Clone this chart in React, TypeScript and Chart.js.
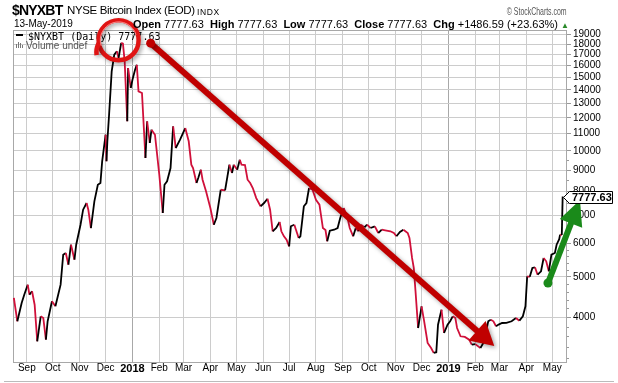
import React, { useEffect, useRef } from 'react';
import { Chart, registerables } from 'chart.js';

Chart.register(...registerables);

// ---- data ----
const DATES: string[] = [
  '2017-08-17','2017-08-21','2017-08-26','2017-08-29','2017-09-02','2017-09-04','2017-09-07','2017-09-10','2017-09-13','2017-09-17',
  '2017-09-20','2017-09-23','2017-09-25','2017-09-30','2017-10-04','2017-10-10','2017-10-13','2017-10-16','2017-10-19','2017-10-22',
  '2017-10-26','2017-10-28','2017-11-02','2017-11-05','2017-11-09','2017-11-11','2017-11-14','2017-11-18','2017-11-22','2017-11-25',
  '2017-11-27','2017-12-01','2017-12-02','2017-12-03','2017-12-05','2017-12-08','2017-12-11','2017-12-14','2017-12-16','2017-12-19',
  '2017-12-21','2017-12-23','2017-12-26','2017-12-27','2017-12-30','2018-01-01','2018-01-04','2018-01-06','2018-01-08','2018-01-12',
  '2018-01-16','2018-01-18','2018-01-21','2018-01-23','2018-01-27','2018-02-01','2018-02-05','2018-02-07','2018-02-10','2018-02-14',
  '2018-02-17','2018-02-20','2018-02-25','2018-03-03','2018-03-07','2018-03-10','2018-03-12','2018-03-16','2018-03-18','2018-03-21',
  '2018-03-23','2018-03-27','2018-04-01','2018-04-05','2018-04-08','2018-04-13','2018-04-18','2018-04-23','2018-04-26','2018-04-28',
  '2018-05-02','2018-05-05','2018-05-07','2018-05-11','2018-05-14','2018-05-17','2018-05-20','2018-05-24','2018-05-29','2018-06-02',
  '2018-06-06','2018-06-09','2018-06-12','2018-06-16','2018-06-20','2018-06-22','2018-06-25','2018-06-28','2018-07-01','2018-07-03',
  '2018-07-07','2018-07-12','2018-07-14','2018-07-18','2018-07-21','2018-07-24','2018-07-28','2018-08-01','2018-08-05','2018-08-09',
  '2018-08-12','2018-08-14','2018-08-17','2018-08-22','2018-08-26','2018-08-29','2018-09-02','2018-09-06','2018-09-09','2018-09-13',
  '2018-09-16','2018-09-19','2018-09-22','2018-09-26','2018-09-29','2018-10-03','2018-10-08','2018-10-12','2018-10-16','2018-10-20',
  '2018-10-26','2018-10-30','2018-11-02','2018-11-06','2018-11-10','2018-11-15','2018-11-17','2018-11-20','2018-11-22','2018-11-24',
  '2018-11-27','2018-12-01','2018-12-04','2018-12-08','2018-12-12','2018-12-15','2018-12-18','2018-12-20','2018-12-24','2018-12-27',
  '2018-12-31','2019-01-03','2019-01-06','2019-01-09','2019-01-11','2019-01-15','2019-01-20','2019-01-25','2019-01-28','2019-02-01',
  '2019-02-07','2019-02-11','2019-02-16','2019-02-19','2019-02-22','2019-02-25','2019-02-28','2019-03-04','2019-03-09','2019-03-15',
  '2019-03-20','2019-03-24','2019-03-28','2019-03-31','2019-04-02','2019-04-05','2019-04-08','2019-04-11','2019-04-14','2019-04-18',
  '2019-04-21','2019-04-24','2019-04-27','2019-04-30','2019-05-04','2019-05-06','2019-05-09','2019-05-10','2019-05-12','2019-05-13',
];

const CLOSES: number[] = [
  4449, 3913, 4328, 4530, 4787, 4530, 4616, 4287, 3505, 4022,
  3985, 3536, 3913, 4368, 4250, 4787, 5646, 5700, 5344, 5966,
  5493, 5966, 6660, 7234, 7505, 7234, 6540, 7576, 8301, 8378,
  9442, 10933, 9442, 10544, 12203, 15499, 16984, 17314, 16687, 18123,
  18050, 16380, 11768, 15784, 14139, 14800, 15637, 16075, 13883, 13753,
  9616, 11768, 10445, 11238, 10933, 8772, 7104, 8301, 8458, 9101,
  11449, 10159, 10636, 11342, 10544, 9268, 9101, 8378, 8614, 9017,
  8533, 8003, 7302, 6660, 6911, 8074, 8050, 9268, 8854, 9268,
  9017, 9526, 9268, 9250, 8533, 8378, 8152, 7713, 7371, 7505,
  7684, 7234, 6423, 6540, 6761, 6423, 6248, 6132, 5913, 6602,
  6660, 6190, 6248, 7371, 7505, 8152, 8074, 7642, 7436, 6540,
  6468, 6079, 6444, 6479, 6540, 6911, 7302, 6976, 6540, 6248,
  6540, 6423, 6660, 6566, 6660, 6540, 6602, 6363, 6479, 6455,
  6423, 6363, 6248, 6398, 6479, 6363, 6190, 5545, 5248, 4616,
  3771, 4250, 3913, 3472, 3378, 3287, 3300, 3840, 4171, 3669,
  3840, 3913, 4022, 3985, 3771, 3603, 3590, 3536, 3440, 3450,
  3378, 3491, 3913, 3947, 3913, 3807, 3843, 3876, 3880, 3913,
  3985, 3926, 4022, 4250, 5013, 5000, 5248, 5268, 5058, 5153,
  5545, 5445, 5153, 5646, 5700, 5966, 6150, 6304, 6291.04, 7777.63,
];

const MONTH_TICK_DATES: string[] = [
  '2017-09-01','2017-10-01','2017-11-01','2017-12-01','2018-01-01','2018-02-01','2018-03-01','2018-04-01','2018-05-01','2018-06-01',
  '2018-07-01','2018-08-01','2018-09-01','2018-10-01','2018-11-01','2018-12-01','2019-01-01','2019-02-01','2019-03-01','2019-04-01','2019-05-01',
];
const MONTH_TICK_LABELS: string[] = [
  'Sep','Oct','Nov','Dec','2018','Feb','Mar','Apr','May','Jun',
  'Jul','Aug','Sep','Oct','Nov','Dec','2019','Feb','Mar','Apr','May',
];
const PRICE_TICKS: number[] = [4000,5000,6000,7000,8000,9000,10000,11000,12000,13000,14000,15000,16000,17000,18000,19000];
const PRICE_MINOR_TICKS: number[] = [3200,3400,3600,3800,4200,4400,4600,4800,5200,5400,5600,5800,6500,7500,8500,9500];
const DATE_RANGE: string[] = ['2017-08-16', '2019-05-18'];
const PRICE_RANGE: number[] = [3127, 19460];

// annotations, anchored in data space
const CIRCLE_AT = { date: '2017-12-16', value: 18400 };
const DOWN_ARROW = { fromDate: '2018-01-22', fromValue: 18100, toDate: '2019-02-23', toValue: 3415 };
const UP_ARROW = { fromDate: '2019-04-26', fromValue: 4830, toDate: '2019-06-02', toValue: 7630 };

const RED = '#d0103a';
const BLACK = '#000000';
const GRID = '#cccccc';
const SANS = "'Liberation Sans', Arial, sans-serif";
const EPOCH = Date.UTC(2018, 0, 1);

function dayNum(s: string): number {
  const [y, m, d] = s.split('-').map(Number);
  return (Date.UTC(y, m - 1, d) - EPOCH) / 86400000;
}
const isYearLabel = (i: number) => /^\d{4}$/.test(MONTH_TICK_LABELS[i] || '');

function drawArrow(ctx: CanvasRenderingContext2D, x0: number, y0: number, x1: number, y1: number,
  color: string, shaft: number, headLen: number, headHalf: number, dotR: number, shadow: boolean) {
  const ang = Math.atan2(y1 - y0, x1 - x0);
  const c = Math.cos(ang), s = Math.sin(ang);
  const bx = x1 - headLen * c, by = y1 - headLen * s;
  ctx.save();
  if (shadow) {
    ctx.shadowColor = 'rgba(0,0,0,0.35)';
    ctx.shadowBlur = 4;
    ctx.shadowOffsetX = 2;
    ctx.shadowOffsetY = 2;
  }
  ctx.strokeStyle = color;
  ctx.fillStyle = color;
  ctx.lineWidth = shaft;
  ctx.lineCap = 'butt';
  ctx.beginPath();
  ctx.moveTo(x0, y0);
  ctx.lineTo(bx + c, by + s);
  ctx.stroke();
  ctx.beginPath();
  ctx.arc(x0, y0, dotR, 0, Math.PI * 2);
  ctx.fill();
  ctx.beginPath();
  ctx.moveTo(x1, y1);
  ctx.lineTo(bx - s * headHalf, by + c * headHalf);
  ctx.lineTo(bx + s * headHalf, by - c * headHalf);
  ctx.closePath();
  ctx.fill();
  ctx.restore();
}

const overlayPlugin = {
  id: 'overlay',
  beforeDatasetsDraw(chart: any) {
    const { ctx, chartArea: a } = chart;
    const ys = chart.scales.y;
    ctx.save();
    ctx.lineWidth = 1;
    // minor ticks on the price axis
    ctx.strokeStyle = '#999';
    PRICE_MINOR_TICKS.forEach((v) => {
      const y = Math.round(ys.getPixelForValue(v)) + 0.5;
      ctx.beginPath();
      ctx.moveTo(a.right, y);
      ctx.lineTo(a.right + 2, y);
      ctx.stroke();
    });
    ctx.strokeStyle = '#a8a8a8';
    ctx.strokeRect(a.left + 0.5, a.top + 0.5, a.right - a.left - 1, a.bottom - a.top);
    // bottom separator
    ctx.fillStyle = '#bbbbbb';
    ctx.fillRect(4, chart.height - 2, chart.width - 8, 1);
    ctx.restore();
  },
  afterDraw(chart: any) {
    const { ctx, chartArea: a } = chart;
    const xs = chart.scales.x, ys = chart.scales.y;
    const px = (d: string) => xs.getPixelForValue(dayNum(d));
    const py = (v: number) => ys.getPixelForValue(v);
    const last = CLOSES[CLOSES.length - 1];

    ctx.save();
    // in-chart legend
    ctx.fillStyle = '#000';
    ctx.fillRect(a.left + 3, a.top + 4, 7, 2);
    ctx.font = "10px 'DejaVu Sans Mono', monospace";
    ctx.textBaseline = 'alphabetic';
    ctx.textAlign = 'left';
    ctx.fillText(`$NYXBT (Daily) ${last.toFixed(2)}`, a.left + 15, a.top + 10);
    ctx.fillStyle = '#777';
    [4, 6, 5, 3].forEach((h, i) => ctx.fillRect(a.left + 3 + i * 2, a.top + 18 - h, 1, h));
    ctx.fillStyle = '#555';
    ctx.font = `10px ${SANS}`;
    ctx.fillText('Volume undef', a.left + 13, a.top + 18.5);

    // red circle
    const cx = px(CIRCLE_AT.date), cy = py(CIRCLE_AT.value);
    ctx.save();
    ctx.shadowColor = 'rgba(0,0,0,0.35)';
    ctx.shadowBlur = 4;
    ctx.shadowOffsetX = 2;
    ctx.shadowOffsetY = 2;
    ctx.strokeStyle = '#e01414';
    ctx.lineWidth = 4.5;
    ctx.beginPath();
    ctx.arc(cx, cy, 20, 0, Math.PI * 2);
    ctx.stroke();
    ctx.beginPath();
    ctx.moveTo(cx - 20, cy + 3);
    ctx.quadraticCurveTo(cx - 23, cy + 9, cx - 22, cy + 15);
    ctx.stroke();
    ctx.restore();
    ctx.strokeStyle = 'rgba(255,150,150,0.9)';
    ctx.lineWidth = 1;
    ctx.beginPath();
    ctx.arc(cx, cy, 18.3, Math.PI * 0.9, Math.PI * 1.9);
    ctx.stroke();

    // arrows
    drawArrow(ctx, px(DOWN_ARROW.fromDate), py(DOWN_ARROW.fromValue), px(DOWN_ARROW.toDate), py(DOWN_ARROW.toValue),
      '#c00000', 6, 23, 13, 4.5, true);
    drawArrow(ctx, px(UP_ARROW.fromDate), py(UP_ARROW.fromValue), px(UP_ARROW.toDate), py(UP_ARROW.toValue),
      '#1a8a1a', 6, 25, 12, 4.5, false);

    // last value tag
    const ty = Math.round(py(last)) + 0.5;
    const r = a.right;
    ctx.fillStyle = '#fff';
    ctx.strokeStyle = '#000';
    ctx.lineWidth = 1;
    ctx.beginPath();
    ctx.moveTo(r - 3.5, ty);
    ctx.lineTo(r + 2.5, ty - 6);
    ctx.lineTo(r + 45.5, ty - 6);
    ctx.lineTo(r + 45.5, ty + 6);
    ctx.lineTo(r + 2.5, ty + 6);
    ctx.closePath();
    ctx.fill();
    ctx.stroke();
    ctx.fillStyle = '#000';
    ctx.font = `bold 11px ${SANS}`;
    ctx.textBaseline = 'middle';
    ctx.fillText(last.toFixed(2), r + 5, ty + 0.5);
    ctx.restore();
  },
};

export default function App() {
  const ref = useRef<HTMLCanvasElement>(null);
  const last = CLOSES[CLOSES.length - 1];
  const prev = CLOSES[CLOSES.length - 2];
  const chg = last - prev;
  const pct = (chg / prev) * 100;

  useEffect(() => {
    if (!ref.current) return;
    const tickDays = MONTH_TICK_DATES.map(dayNum);
    const chart = new Chart(ref.current, {
      type: 'line',
      data: {
        datasets: [{
          data: DATES.map((d, i) => ({ x: dayNum(d), y: CLOSES[i] })),
          borderColor: BLACK,
          borderWidth: 1.8,
          pointRadius: 0,
          tension: 0,
          segment: {
            borderColor: (c: any) => (c.p1.parsed.y < c.p0.parsed.y ? RED : BLACK),
          },
        }],
      },
      options: {
        responsive: false,
        animation: false,
        devicePixelRatio: 1,
        events: [],
        layout: { padding: { left: 13, top: 30, right: 0, bottom: 0 } },
        plugins: { legend: { display: false }, tooltip: { enabled: false } },
        scales: {
          x: {
            type: 'linear',
            min: dayNum(DATE_RANGE[0]),
            max: dayNum(DATE_RANGE[1]),
            afterBuildTicks: (s: any) => { s.ticks = tickDays.map((v) => ({ value: v })); },
            afterFit: (s: any) => { s.height = 21; },
            border: { display: false },
            grid: {
              color: (c: any) => (isYearLabel(c.index) ? '#a8a8a8' : GRID),
              drawTicks: false,
            },
            ticks: {
              autoSkip: false,
              maxRotation: 0,
              minRotation: 0,
              padding: 0,
              color: '#000',
              font: (c: any) => (isYearLabel(c.index)
                ? { family: SANS, size: 11, weight: 'bold' }
                : { family: SANS, size: 10 }),
              callback: (_v: any, i: number) => MONTH_TICK_LABELS[i] ?? '',
            },
          },
          y: {
            type: 'logarithmic',
            position: 'right',
            min: PRICE_RANGE[0],
            max: PRICE_RANGE[1],
            afterBuildTicks: (s: any) => { s.ticks = PRICE_TICKS.map((v) => ({ value: v })); },
            afterFit: (s: any) => { s.width = 51; },
            border: { display: false },
            grid: { color: GRID, tickColor: '#999', tickLength: 4, drawTicks: true },
            ticks: {
              padding: 2,
              color: '#000',
              font: { family: SANS, size: 10 },
              callback: (v: any) => String(v),
            },
          },
        },
      } as any,
      plugins: [overlayPlugin],
    });
    return () => chart.destroy();
  }, []);

  const base: React.CSSProperties = { position: 'absolute', lineHeight: 1, whiteSpace: 'pre', fontFamily: SANS, color: '#000' };

  return (
    <div style={{ position: 'absolute', left: 0, top: 0, width: 618, height: 383, background: '#fff', overflow: 'hidden' }}>
      <canvas ref={ref} width={618} height={383} style={{ position: 'absolute', left: 0, top: 0, width: 618, height: 383 }} />
      <div style={{ ...base, left: 12, top: 2.5, fontSize: 14, fontWeight: 'bold', letterSpacing: -0.8 }}>$NYXBT</div>
      <div style={{ ...base, left: 67, top: 5, fontSize: 11.5, letterSpacing: -0.35 }}>NYSE Bitcoin Index (EOD)</div>
      <div style={{ ...base, left: 197, top: 7.5, fontSize: 8.5, letterSpacing: 0.6 }}>INDX</div>
      <div style={{ ...base, right: 51, top: 5.5, fontSize: 10.5, color: '#555', transform: 'scaleX(0.66)', transformOrigin: 'right center' }}>© StockCharts.com</div>
      <div style={{ ...base, left: 14, top: 19, fontSize: 10 }}>13-May-2019</div>
      <div style={{ ...base, right: 49, top: 18.5, fontSize: 11 }}>
        <b>Open</b> {last.toFixed(2)}  <b>High</b> {last.toFixed(2)}  <b>Low</b> {last.toFixed(2)}  <b>Close</b> {last.toFixed(2)}  <b>Chg</b> +{chg.toFixed(2)} (+{pct.toFixed(2)}%) <span style={{ color: '#2a8a2a', fontSize: 8 }}>▲</span>
      </div>
    </div>
  );
}
